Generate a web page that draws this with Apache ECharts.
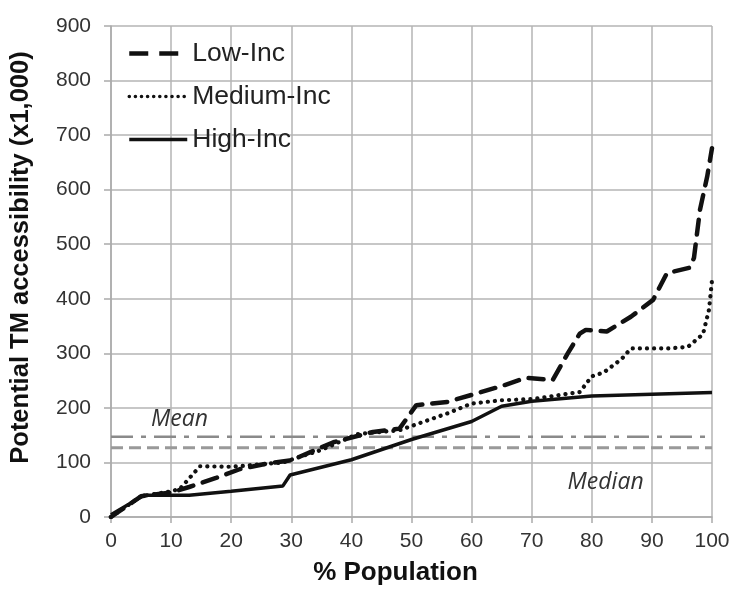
<!DOCTYPE html>
<html>
<head>
<meta charset="utf-8">
<script src="https://cdn.jsdelivr.net/npm/echarts@6/dist/echarts.min.js"></script>
<style>
html,body{margin:0;padding:0;background:#fff;}
#chart{width:733px;height:591px;}
</style>
</head>
<body>
<div id="chart"></div>
<script>
// ---- data ----
const xTicks = [0,10,20,30,40,50,60,70,80,90,100];
const yTicks = [0,100,200,300,400,500,600,700,800,900];

const lowIncX  = [0,5,10,13,17.6,21.5,26,30,37,43.6,48,50.8,56,61,65,69,73.5,76,78,79,82.5,86.5,90.2,92.5,96.3,97,98,99.2,100];
const lowIncY  = [0,38,45,55,72,88,98,104,137,156,162,205,211,227,240,255,251,300,336,343,340,367,398,447,457,475,563,624,676];

const medIncX  = [0,5,10,11.5,14.8,20,28.6,35,41,48,56,60,65,70,78,80,82,85,86.5,93,96,98.5,99.5,100];
const medIncY  = [0,38,47,52,93,92,100,123,152,159,190,208,214,216,229,258,265,290,309,309,312,335,380,434];

const highIncX = [0,5.5,13,20,28.6,29.8,40,50,60,65,70,80,90,100];
const highIncY = [4,40,40,47,57,77,105,142,175,203,212,222,225,228];

const MEAN = 147;
const MEDIAN = 127;
const X_RANGE = [0,100];

const seriesNames = ['Low-Inc','Medium-Inc','High-Inc'];

function pairs(xs, ys){ return xs.map((x,i)=>[x, ys[i]]); }

const chart = echarts.init(document.getElementById('chart'), null, {renderer:'canvas'});
const font = "'Liberation Sans', Arial, sans-serif";

const lowStyle  = {color:'#111', width:4.5, type:[15,10], cap:'round'};
const medStyle  = {color:'#111', width:4.2, type:[0.1,7], cap:'round'};
const highStyle = {color:'#111', width:3.5, type:'solid'};

const option = {
  animation:false,
  backgroundColor:'#fff',
  grid:{left:111, right:21, top:26, bottom:74, containLabel:false, outerBoundsMode:'none'},
  legend:{
    orient:'vertical', left:122, top:35,
    itemWidth:58, itemHeight:16, itemGap:16,
    data:[
      {name:seriesNames[0], lineStyle:Object.assign({}, lowStyle, {type:[19,11], width:4.5, cap:'butt'})},
      {name:seriesNames[1], lineStyle:Object.assign({}, medStyle, {width:3.5, type:[0.1,6]})},
      {name:seriesNames[2], lineStyle:Object.assign({}, highStyle, {width:3.5})}
    ],
    itemStyle:{opacity:0},
    textStyle:{fontFamily:font, fontSize:26.5, color:'#222'}
  },
  xAxis:{
    type:'value', min:0, max:100, interval:10,
    name:'% Population', nameLocation:'middle', nameGap:43,
    nameTextStyle:{fontFamily:font, fontSize:26, fontWeight:'bold', color:'#111', padding:[0,32,0,0]},
    axisLine:{show:true, lineStyle:{color:'#aaa', width:1.5}},
    axisTick:{show:true, length:6, lineStyle:{color:'#aaa', width:1.5}},
    axisLabel:{margin:14, fontFamily:font, fontSize:21, color:'#333',
      formatter:(v)=> xTicks.includes(v) ? String(v) : ''},
    splitLine:{show:true, lineStyle:{color:'#b5b5b5', width:1.5}}
  },
  yAxis:{
    type:'value', min:0, max:900, interval:100,
    name:'Potential TM accessibility (x1,000)', nameLocation:'middle', nameGap:77,
    nameTextStyle:{fontFamily:font, fontSize:25.5, fontWeight:'bold', color:'#111', padding:[0,0,0,28]},
    axisLine:{show:true, lineStyle:{color:'#aaa', width:1.5}},
    axisTick:{show:true, length:7, lineStyle:{color:'#aaa', width:1.5}},
    axisLabel:{margin:20, fontFamily:font, fontSize:21, color:'#333',
      formatter:(v)=> yTicks.includes(v) ? String(v) : ''},
    splitLine:{show:true, lineStyle:{color:'#b5b5b5', width:1.5}}
  },
  series:[
    {
      name:'Mean', type:'line', symbol:'none', z:1, silent:true,
      data:X_RANGE.map(x=>[x, MEAN]),
      lineStyle:{color:'#8a8a8a', width:2.5, type:[22,8,5,8]},
      markPoint:{
        symbol:'circle', symbolSize:0, silent:true,
        label:{show:true, position:'inside', formatter:'Mean',
          fontFamily:"'Open Sans', sans-serif", fontStyle:'italic', fontSize:23, color:'#333'},
        data:[{coord:[11.4,178]}]
      }
    },
    {
      name:'Median', type:'line', symbol:'none', z:1, silent:true,
      data:X_RANGE.map(x=>[x, MEDIAN]),
      lineStyle:{color:'#999', width:3, type:[12,6]},
      markPoint:{
        symbol:'circle', symbolSize:0, silent:true,
        label:{show:true, position:'inside', formatter:'Median',
          fontFamily:"'Open Sans', sans-serif", fontStyle:'italic', fontSize:23, color:'#333'},
        data:[{coord:[82.3,64]}]
      }
    },
    {
      name:'Low-Inc', type:'line', symbol:'none', z:4,
      data:pairs(lowIncX, lowIncY),
      lineStyle:lowStyle,
      itemStyle:{color:'#111'}
    },
    {
      name:'Medium-Inc', type:'line', symbol:'none', z:3,
      data:pairs(medIncX, medIncY),
      lineStyle:medStyle,
      itemStyle:{color:'#111'}
    },
    {
      name:'High-Inc', type:'line', symbol:'none', z:3,
      data:pairs(highIncX, highIncY),
      lineStyle:highStyle,
      itemStyle:{color:'#111'}
    }
  ]
};
chart.setOption(option);
</script>
</body>
</html>
